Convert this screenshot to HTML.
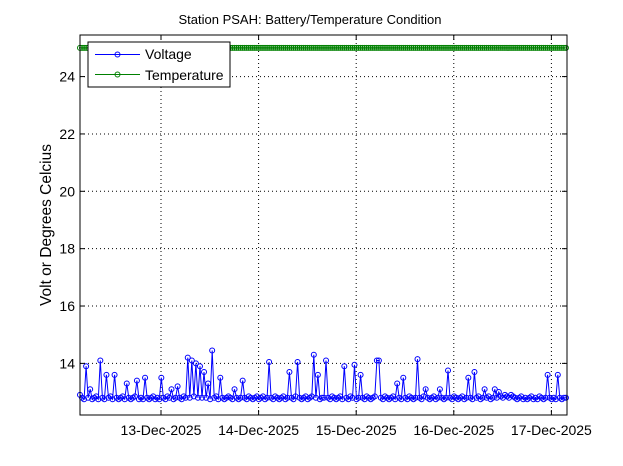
<!DOCTYPE html>
<html><head><meta charset="utf-8"><style>
body{margin:0;background:#fff;}
svg{display:block;font-family:"Liberation Sans",sans-serif;}
</style></head><body>
<svg id="chart" width="623" height="466" xmlns="http://www.w3.org/2000/svg">
<rect width="623" height="466" fill="#fff"/>
<g id="grid"></g>
<g id="series"></g>
<g id="axes"></g>
<text x="310" y="24" font-size="13" text-anchor="middle">Station PSAH: Battery/Temperature Condition</text>
<text transform="translate(51,225) rotate(-90)" font-size="15.5" text-anchor="middle">Volt or Degrees Celcius</text>
<g>
<rect x="88" y="42" width="142" height="45" fill="#fff" stroke="#000" stroke-width="1"/>
<g>
<line x1="95" y1="54.5" x2="140" y2="54.5" stroke="#0000ff"/>
<circle cx="117.5" cy="54.5" r="2.5" fill="none" stroke="#0000ff"/>
<text x="145" y="59" font-size="14">Voltage</text></g>
<g>
<line x1="95" y1="74.5" x2="140" y2="74.5" stroke="#008000"/>
<circle cx="117.5" cy="74.5" r="2.5" fill="none" stroke="#008000"/>
<text x="145" y="80" font-size="14">Temperature</text></g>
</g>
</svg>
<script>
const yTicks=[14,16,18,20,22,24];
const xTickDays=[13,14,15,16,17];
const xTickLabels=["13-Dec-2025","14-Dec-2025","15-Dec-2025","16-Dec-2025","17-Dec-2025"];
const startDay=12.17;
const stepDays=1/48;
const voltage=[
12.9,12.8,12.75,13.9,12.8,13.1,12.75,12.8,12.85,12.75,14.1,12.8,12.75,13.6,12.8,12.85,12.75,13.6,12.8,12.75,
12.8,12.85,12.75,13.3,12.8,12.75,12.8,12.85,13.4,12.75,12.8,12.75,13.5,12.8,12.75,12.8,12.85,12.75,12.8,12.75,
13.5,12.8,12.75,12.85,12.8,13.1,12.75,12.8,13.2,12.8,12.75,12.85,12.8,14.2,12.8,14.1,12.85,14.0,12.8,13.9,
12.8,13.7,12.8,13.3,12.75,14.45,12.8,12.85,12.75,13.5,12.8,12.75,12.8,12.85,12.8,12.75,13.1,12.8,12.75,12.8,
13.4,12.8,12.75,12.85,12.8,12.75,12.8,12.85,12.75,12.8,12.85,12.75,12.8,14.05,12.8,12.75,12.85,12.8,12.75,12.8,
12.85,12.75,12.8,13.7,12.8,12.75,12.85,14.05,12.8,12.75,12.8,12.85,12.75,12.8,12.85,14.3,12.8,13.6,12.75,12.8,
12.8,14.1,12.8,12.75,12.85,12.8,12.75,12.8,12.85,12.75,13.9,12.8,12.75,12.85,12.8,13.95,12.75,12.8,13.6,12.8,
12.75,12.85,12.8,12.75,12.8,12.85,14.1,14.1,12.8,12.75,12.85,12.8,12.75,12.8,12.85,12.75,13.3,12.8,12.75,13.5,
12.8,12.75,12.85,12.8,12.75,12.8,14.15,12.8,12.75,12.85,13.1,12.8,12.75,12.8,12.85,12.75,12.8,13.1,12.8,12.75,
12.8,13.75,12.8,12.75,12.85,12.8,12.75,12.8,12.85,12.75,12.8,13.5,12.8,12.75,13.7,12.8,12.85,12.75,12.8,13.1,
12.8,12.85,12.75,12.8,13.1,12.8,13.0,12.85,12.8,12.9,12.85,12.8,12.9,12.85,12.8,12.75,12.8,12.85,12.75,12.8,
12.75,12.8,12.85,12.75,12.8,12.75,12.85,12.8,12.75,12.8,13.6,12.8,12.75,12.8,12.75,13.6,12.8,12.75,12.8,12.8];
const temperature=new Array(240).fill(25);

const L=80,R=567,T=35,B=415;
const xMin=12.17,xMax=17.16,yMin=12.2,yMax=25.45;
const sx=d=>L+(d-xMin)/(xMax-xMin)*(R-L);
const sy=v=>B-(v-yMin)/(yMax-yMin)*(B-T);
const NS="http://www.w3.org/2000/svg";
function mk(tag,attrs,parent){const e=document.createElementNS(NS,tag);for(const k in attrs)e.setAttribute(k,attrs[k]);parent.appendChild(e);return e;}
const grid=document.getElementById('grid'),axes=document.getElementById('axes'),series=document.getElementById('series');
yTicks.forEach(v=>{const y=sy(v);
 const g=mk('line',{x1:L,x2:R,y1:y,y2:y,stroke:'#000','stroke-dasharray':'1,3','stroke-width':1},grid);
 
 
 mk('line',{x1:L,x2:L+5,y1:y,y2:y,stroke:'#000'},axes);
 mk('line',{x1:R,x2:R-5,y1:y,y2:y,stroke:'#000'},axes);
 const t=mk('text',{x:L-5,y:y+5,'font-size':14,'text-anchor':'end'},axes);t.textContent=v;
 
 
});
xTickDays.forEach((d,i)=>{const x=sx(d);
 const g=mk('line',{x1:x,x2:x,y1:T,y2:B,stroke:'#000','stroke-dasharray':'1,3','stroke-width':1},grid);
 
 
 mk('line',{x1:x,x2:x,y1:B,y2:B-5,stroke:'#000'},axes);
 mk('line',{x1:x,x2:x,y1:T,y2:T+5,stroke:'#000'},axes);
 const t=mk('text',{x:x,y:B+20,'font-size':14,'text-anchor':'middle'},axes);t.textContent=xTickLabels[i];
 
 
});
const frame=mk('rect',{x:L,y:T,width:R-L,height:B-T,fill:'none',stroke:'#000'},axes);


function draw(vals,color,name){
 const g=mk('g',{},series);
 
 
 const pts=vals.map((v,i)=>sx(startDay+i*stepDays).toFixed(1)+','+sy(v).toFixed(1)).join(' ');
 mk('polyline',{points:pts,fill:'none',stroke:color,'stroke-width':1},g);
 vals.forEach((v,i)=>{const c=mk('circle',{cx:sx(startDay+i*stepDays),cy:sy(v),r:2.5,fill:'none',stroke:color,'stroke-width':1},g);
  
  });
}
draw(temperature,'#008000','temperature');
draw(voltage,'#0000ff','voltage');
</script>
</body></html>
